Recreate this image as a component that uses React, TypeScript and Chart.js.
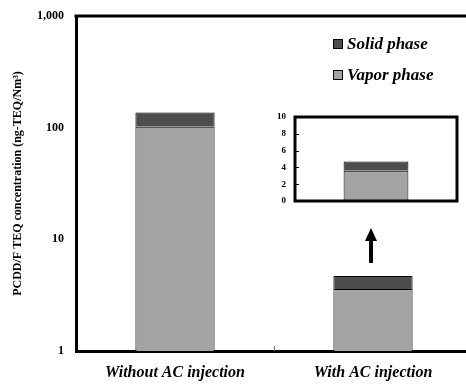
import React, { useEffect, useRef } from "react";
import { Chart, registerables } from "chart.js";
Chart.register(...registerables);

const categories = ["Without AC injection", "With AC injection"];
const vaporPhase = [102, 3.6];
const solidPhase = [35, 1.1];
const mainTicks = [1, 10, 100, 1000];
const insetTicks = [0, 2, 4, 6, 8, 10];
const legendLabels = ["Solid phase", "Vapor phase"];
const yTitle = "PCDD/F TEQ concentration (ng-TEQ/Nm\u00B3)";

const SOLID = "#4d4d4d";
const VAPOR = "#a3a3a3";
const FONT = "'Liberation Serif', 'Times New Roman', serif";

export default function App() {
  const mainRef = useRef<HTMLCanvasElement>(null);
  const insetRef = useRef<HTMLCanvasElement>(null);

  useEffect(() => {
    const mainPlugin = {
      id: "mainDecor",
      afterDraw(chart: any) {
        const { ctx, chartArea } = chart;
        const xs = chart.scales.x;
        ctx.save();
        // top border
        ctx.strokeStyle = "#000";
        ctx.lineWidth = 3;
        ctx.beginPath();
        ctx.moveTo(chartArea.left - 1.5, chartArea.top);
        ctx.lineTo(chartArea.right + 2, chartArea.top);
        ctx.stroke();
        // middle tick
        const mid = (xs.getPixelForValue(0) + xs.getPixelForValue(1)) / 2;
        ctx.strokeStyle = "#777";
        ctx.lineWidth = 1;
        ctx.beginPath();
        ctx.moveTo(mid + 0.5, chartArea.bottom);
        ctx.lineTo(mid + 0.5, chartArea.bottom - 5);
        ctx.stroke();
        // legend
        const colors = [SOLID, VAPOR];
        const lx = 333;
        const ly = [39, 70];
        ctx.font = `italic bold 17px ${FONT}`;
        ctx.textBaseline = "alphabetic";
        ctx.textAlign = "left";
        legendLabels.forEach((lab, i) => {
          ctx.fillStyle = colors[i];
          ctx.fillRect(lx, ly[i], 9, 9);
          ctx.strokeStyle = "#000";
          ctx.lineWidth = 1;
          ctx.strokeRect(lx + 0.5, ly[i] + 0.5, 9, 9);
          ctx.fillStyle = "#000";
          ctx.fillText(lab, lx + 14, ly[i] + 10);
        });
        // arrow
        const ax = xs.getPixelForValue(1) - 2;
        ctx.fillStyle = "#000";
        ctx.fillRect(ax - 2, 240, 4, 23);
        ctx.beginPath();
        ctx.moveTo(ax, 228);
        ctx.lineTo(ax + 6, 241);
        ctx.lineTo(ax - 6, 241);
        ctx.closePath();
        ctx.fill();
        ctx.restore();
      },
    };

    const main = new Chart(mainRef.current!, {
      type: "bar",
      data: {
        labels: categories,
        datasets: [
          {
            label: legendLabels[1],
            data: vaporPhase,
            backgroundColor: VAPOR,
            borderColor: "#000",
            borderWidth: 1,
            barPercentage: 0.4,
            categoryPercentage: 1,
          },
          {
            label: legendLabels[0],
            data: solidPhase,
            backgroundColor: SOLID,
            borderColor: "#000",
            borderWidth: 1,
            barPercentage: 0.4,
            categoryPercentage: 1,
          },
        ],
      },
      options: {
        responsive: false,
        animation: false,
        layout: { padding: { left: 8, top: 16, right: 8, bottom: 0 } },
        plugins: { legend: { display: false }, tooltip: { enabled: false } },
        scales: {
          x: {
            stacked: true,
            grid: { display: false, drawTicks: false },
            border: { display: true, width: 3, color: "#000" },
            ticks: {
              color: "#000",
              font: { family: FONT, size: 16, weight: "bold", style: "italic" },
              padding: 12,
              maxRotation: 0,
              autoSkip: false,
            },
            afterFit: (s: any) => {
              s.height = 34;
            },
          },
          y: {
            type: "logarithmic",
            stacked: true,
            min: 1,
            max: 1000,
            grid: { display: false, drawTicks: false },
            border: { display: true, width: 3, color: "#000" },
            afterBuildTicks: (s: any) => {
              s.ticks = mainTicks.map((v) => ({ value: v }));
            },
            ticks: {
              color: "#000",
              font: { family: FONT, size: 12, weight: "bold" },
              padding: 12,
              callback: (v: any) => Number(v).toLocaleString("en-US"),
            },
            title: {
              display: true,
              text: yTitle,
              color: "#000",
              font: { family: FONT, size: 12, weight: "bold" },
              padding: { top: 3, bottom: 0 },
            },
            afterFit: (s: any) => {
              s.width = 68;
              s.paddingTop = 0;
              s.paddingBottom = 0;
            },
          },
        },
      },
      plugins: [mainPlugin],
    } as any);

    const insetPlugin = {
      id: "insetDecor",
      afterDraw(chart: any) {
        const { ctx, chartArea } = chart;
        const ys = chart.scales.y;
        ctx.save();
        ctx.strokeStyle = "#000";
        ctx.lineWidth = 1;
        insetTicks.forEach((t) => {
          const y = Math.round(ys.getPixelForValue(t)) + 0.5;
          ctx.beginPath();
          ctx.moveTo(chartArea.left, y);
          ctx.lineTo(chartArea.left + 4, y);
          ctx.stroke();
        });
        ctx.lineWidth = 3;
        ctx.strokeRect(
          chartArea.left,
          chartArea.top,
          chartArea.right - chartArea.left,
          chartArea.bottom - chartArea.top
        );
        ctx.restore();
      },
    };

    const inset = new Chart(insetRef.current!, {
      type: "bar",
      data: {
        labels: [categories[1]],
        datasets: [
          {
            data: [vaporPhase[1]],
            backgroundColor: VAPOR,
            borderColor: "#000",
            borderWidth: 1,
            barPercentage: 0.4,
            categoryPercentage: 1,
          },
          {
            data: [solidPhase[1]],
            backgroundColor: SOLID,
            borderColor: "#000",
            borderWidth: 1,
            barPercentage: 0.4,
            categoryPercentage: 1,
          },
        ],
      },
      options: {
        responsive: false,
        animation: false,
        layout: { padding: { left: 0, top: 12, right: 9, bottom: 10 } },
        plugins: { legend: { display: false }, tooltip: { enabled: false } },
        scales: {
          x: { stacked: true, display: false },
          y: {
            stacked: true,
            min: 0,
            max: 10,
            grid: { display: false, drawTicks: false },
            border: { display: false },
            afterBuildTicks: (s: any) => {
              s.ticks = insetTicks.map((v) => ({ value: v }));
            },
            ticks: {
              color: "#000",
              font: { family: FONT, size: 9, weight: "bold" },
              padding: 9,
            },
            afterFit: (s: any) => {
              s.width = 45;
              s.paddingTop = 0;
              s.paddingBottom = 0;
            },
          },
        },
      },
      plugins: [insetPlugin],
    } as any);

    return () => {
      main.destroy();
      inset.destroy();
    };
  }, []);

  return (
    <div>
      <div style={{ position: "fixed", left: 0, top: 0, width: 480, height: 385 }}>
        <canvas ref={mainRef} width={480} height={385} style={{ display: "block" }} />
      </div>
      <div style={{ position: "fixed", left: 250, top: 105, width: 216, height: 106 }}>
        <canvas ref={insetRef} width={216} height={106} style={{ display: "block" }} />
      </div>
    </div>
  );
}
